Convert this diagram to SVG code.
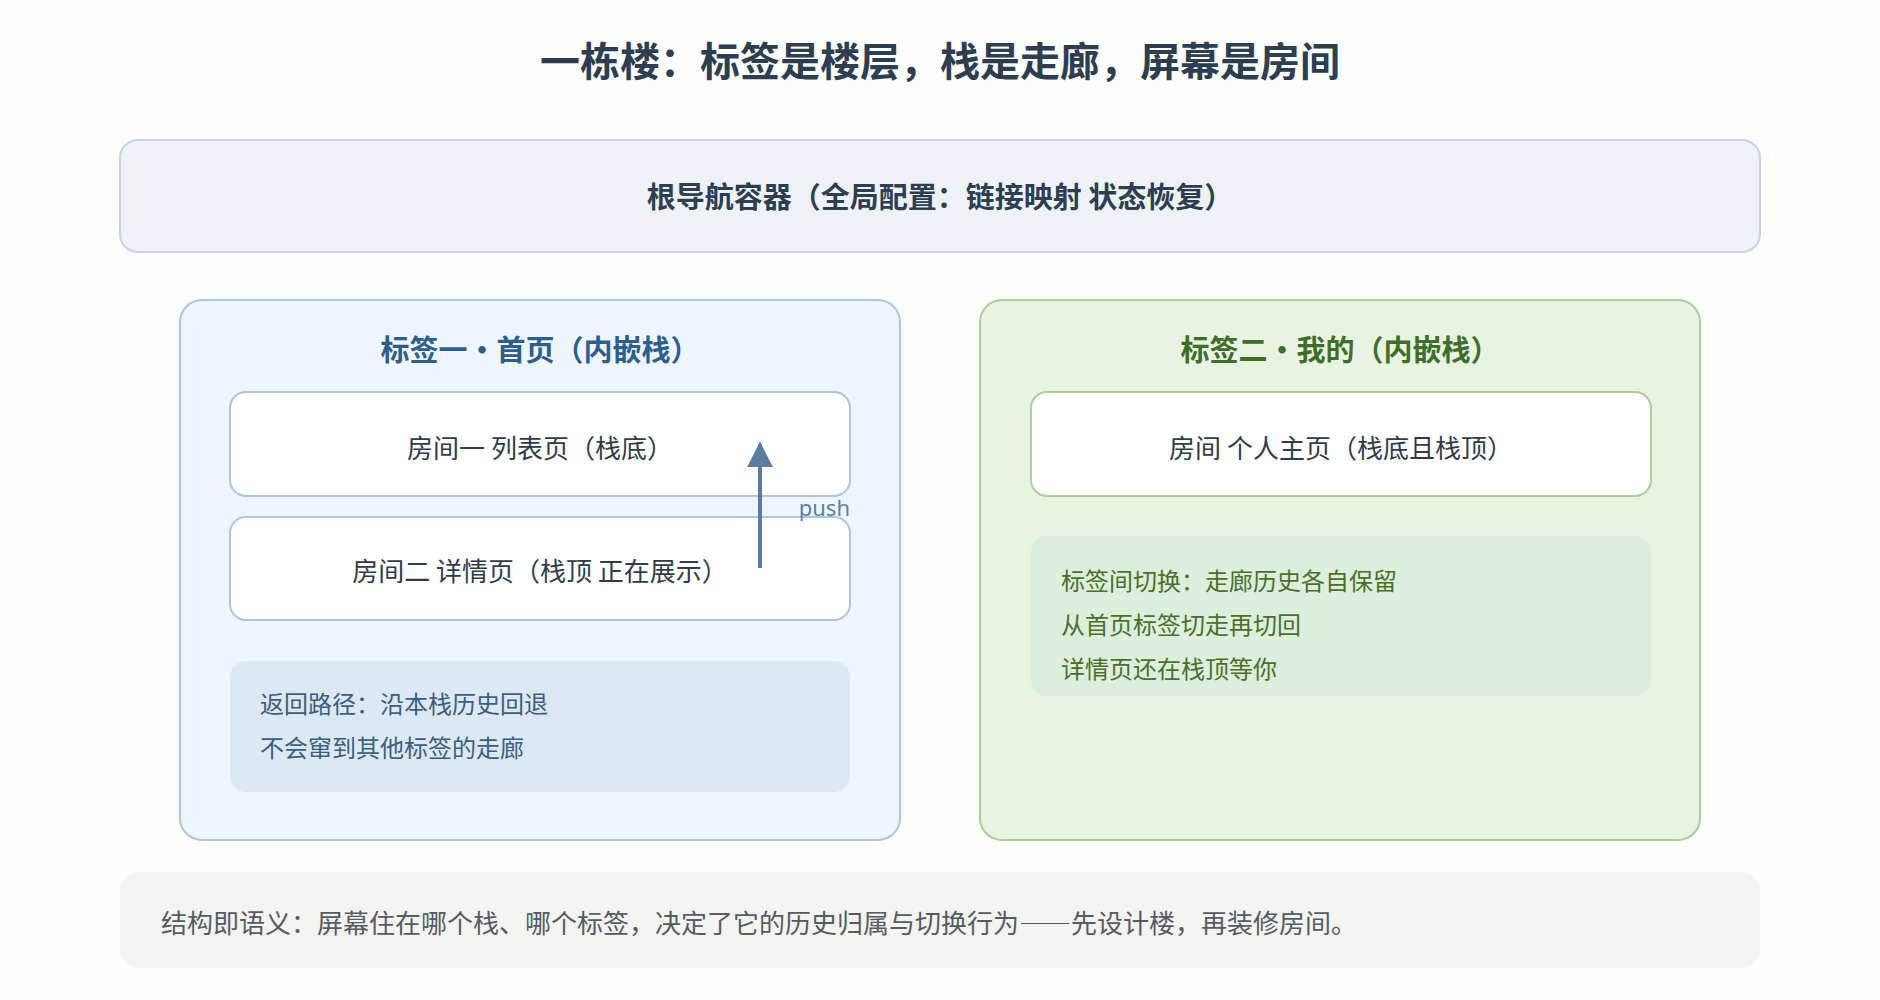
<svg xmlns="http://www.w3.org/2000/svg" width="1880" height="1000" viewBox="0 0 1880 1000">
<defs>
<style>
text{font-family:"Noto Sans CJK SC","Noto Sans",sans-serif;}
.title{font-size:40px;font-weight:700;fill:#2c3e50;text-anchor:middle;}
.root{font-size:29px;font-weight:700;fill:#2c3e50;text-anchor:middle;}
.ptitle{font-size:29px;font-weight:700;text-anchor:middle;}
.room{font-size:26px;fill:#2f3b48;text-anchor:middle;}
.note{font-size:24px;}
.foot{font-size:26px;fill:#555b62;}
.dash{font-feature-settings:"fwid";}
.roomL{fill:#ffffff;stroke:#a9c7e0;stroke-width:2;}
.roomR{fill:#ffffff;stroke:#a9cf9a;stroke-width:2;}
</style>
<marker id="ah" viewBox="0 0 10 10" refX="9" refY="5" markerWidth="6.5" markerHeight="6.5" markerUnits="strokeWidth" orient="auto">
<path d="M0,0 L10,5 L0,10 Z" fill="#5b7b9f"/>
</marker>
</defs>
<rect width="1880" height="1000" fill="#fdfdfb"/>
<text class="title" x="940" y="76">一栋楼：标签是楼层，栈是走廊，屏幕是房间</text>

<g id="root">
<rect x="120" y="140" width="1640" height="112" rx="18" fill="#eef2f7" stroke="#c6d3e0" stroke-width="2"/>
<text class="root" x="940" y="208">根导航容器（全局配置：链接映射 状态恢复）</text>
</g>

<g id="tab1">
<rect x="180" y="300" width="720" height="540" rx="22" fill="#eef5fc" stroke="#a9c7e0" stroke-width="2"/>
<text class="ptitle" x="540" y="361" fill="#2e5f8a">标签一・首页（内嵌栈）</text>
</g>
<g id="room1">
<rect class="roomL" x="230" y="392" width="620" height="104" rx="16"/>
<text class="room" x="540" y="458">房间一 列表页（栈底）</text>
</g>
<g id="room2">
<rect class="roomL" x="230" y="517" width="620" height="103" rx="16"/>
<text class="room" x="540" y="581">房间二 详情页（栈顶 正在展示）</text>
</g>
<g id="note1">
<rect x="230" y="661" width="620" height="131" rx="16" fill="#dce8f4"/>
<text class="note" x="260" y="713" fill="#3b5f80">返回路径：沿本栈历史回退</text>
<text class="note" x="260" y="757" fill="#3b5f80">不会窜到其他标签的走廊</text>
</g>

<g id="tab2">
<rect x="980" y="300" width="720" height="540" rx="22" fill="#e8f3e2" stroke="#a9cf9a" stroke-width="2"/>
<text class="ptitle" x="1340" y="361" fill="#3f6e2a">标签二・我的（内嵌栈）</text>
</g>
<g id="room3">
<rect class="roomR" x="1031" y="392" width="620" height="104" rx="16"/>
<text class="room" x="1341" y="458">房间 个人主页（栈底且栈顶）</text>
</g>
<g id="note2">
<rect x="1031" y="536" width="620" height="160" rx="16" fill="#dcefdc"/>
<text class="note" x="1061" y="590" fill="#4e6e2c">标签间切换：走廊历史各自保留</text>
<text class="note" x="1061" y="634" fill="#4e6e2c">从首页标签切走再切回</text>
<text class="note" x="1061" y="678" fill="#4e6e2c">详情页还在栈顶等你</text>
</g>

<g id="connectors">
<line x1="760" y1="568" x2="760" y2="444" stroke="#5b7b9f" stroke-width="4" marker-end="url(#ah)"/>
<text x="850" y="516" font-size="22" fill="#5b7fa8" text-anchor="end" style="font-family:'Noto Sans','Open Sans',sans-serif">push</text>
</g>

<g id="footer">
<rect x="120" y="872" width="1640" height="96" rx="20" fill="#f3f3f0"/>
<text class="foot" x="161" y="933">结构即语义：屏幕住在哪个栈、哪个标签，决定了它的历史归属与切换行为<tspan class="dash">——</tspan>先设计楼，再装修房间。</text>
</g>
</svg>
